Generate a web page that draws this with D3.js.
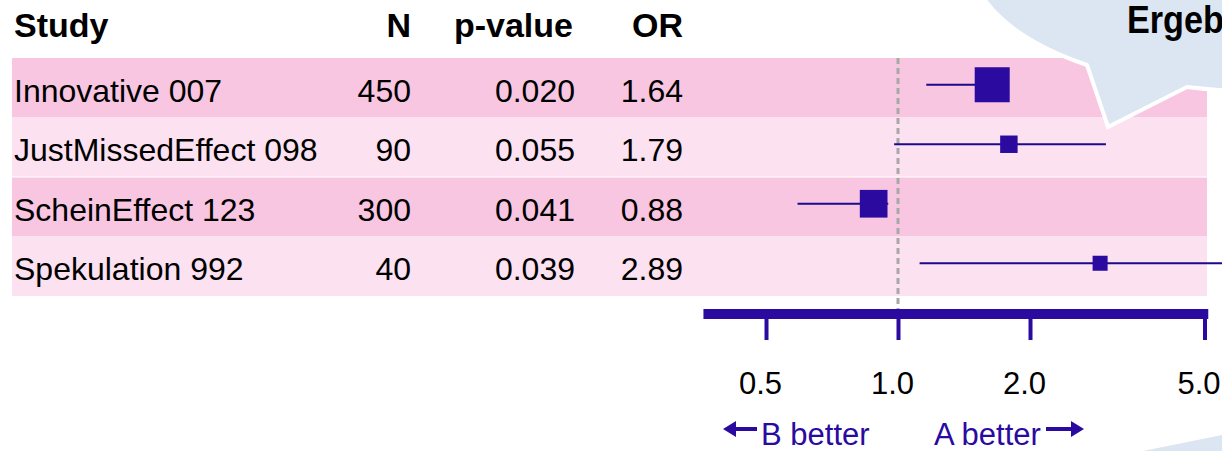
<!DOCTYPE html>
<html>
<head>
<meta charset="utf-8">
<script src="https://cdn.jsdelivr.net/npm/d3@7"></script>
<style>
  html, body { margin: 0; padding: 0; background: #ffffff; }
  svg { display: block; }
  text { font-family: "Liberation Sans", Arial, sans-serif; }
</style>
</head>
<body>
<svg id="chart" width="1222" height="451"></svg>
<script>
// Study table
const studies = ["Innovative 007", "JustMissedEffect 098", "ScheinEffect 123", "Spekulation 992"];
const sampleSizes = [450, 90, 300, 40];
const pValues = ["0.020", "0.055", "0.041", "0.039"];
const oddsRatios = [1.64, 1.79, 0.88, 2.89];
const ciLower = [1.16, 0.98, 0.59, 1.12];
const ciUpper = [1.73, 2.98, 0.95, 6.0];

// Axis
const tickValues = [0.5, 1.0, 2.0, 5.0];
const columnHeaders = ["Study", "N", "p-value", "OR"];
const directionLabels = ["B better", "A better"];
const calloutText = "Ergebnisse";

const W = 1222, H = 451;
const svg = d3.select("#chart");

const ink = "#2a0a9f";
const ciInk = "#1b0a8c";
const rowFills = ["#f8c6e1", "#fce1f0"];

const rows = studies.map((s, i) => ({
  study: s, n: sampleSizes[i], p: pValues[i], or: oddsRatios[i],
  lo: ciLower[i], hi: ciUpper[i], i
}));

// scales
const y = d3.scaleBand().domain(studies).range([58, 296]).paddingInner(0);
const x = d3.scaleLog().domain([0.5, 5]).range([766, 1204.5]);
const boxSize = d3.scaleLinear().domain([40, 450]).range([15, 35]);

const bandLeft = 12, bandRight = 1207;

// row bands
svg.append("g").selectAll("rect").data(rows).join("rect")
  .attr("x", bandLeft)
  .attr("y", d => y(d.study))
  .attr("width", bandRight - bandLeft)
  .attr("height", y.bandwidth())
  .attr("fill", d => rowFills[d.i % 2]);

// thin white separator between the second and third rows
svg.append("line")
  .attr("x1", bandLeft).attr("x2", bandRight)
  .attr("y1", y(studies[2])).attr("y2", y(studies[2]))
  .attr("stroke", "#ffffff").attr("stroke-width", 1.2);

// column headers
const colRight = { n: 411, p: 575, or: 683 };
const header = svg.append("g").attr("font-weight", "bold").attr("font-size", 34).attr("fill", "#000");
header.append("text").attr("x", 14).attr("y", 37).text(columnHeaders[0]);
header.append("text").attr("x", colRight.n).attr("y", 37).attr("text-anchor", "end").text(columnHeaders[1]);
header.append("text").attr("x", colRight.p - 2).attr("y", 37).attr("text-anchor", "end").text(columnHeaders[2]);
header.append("text").attr("x", colRight.or).attr("y", 37).attr("text-anchor", "end").text(columnHeaders[3]);

// table cells
const fmtOR = d3.format(".2f");
const cells = svg.append("g").attr("font-size", 32).attr("fill", "#000");
const baseY = d => y(d.study) + y.bandwidth() / 2 + 14;
cells.selectAll(".study").data(rows).join("text")
  .attr("x", 14).attr("y", baseY).text(d => d.study);
cells.selectAll(".n").data(rows).join("text")
  .attr("x", colRight.n).attr("y", baseY).attr("text-anchor", "end").text(d => d.n);
cells.selectAll(".p").data(rows).join("text")
  .attr("x", colRight.p).attr("y", baseY).attr("text-anchor", "end").text(d => d.p);
cells.selectAll(".or").data(rows).join("text")
  .attr("x", colRight.or).attr("y", baseY).attr("text-anchor", "end").text(d => fmtOR(d.or));

// reference line at OR = 1
const axisY = 314;
svg.append("line")
  .attr("x1", x(1)).attr("x2", x(1))
  .attr("y1", 58).attr("y2", axisY)
  .attr("stroke", "#a8a8a8").attr("stroke-width", 3)
  .attr("stroke-dasharray", "6,4");

// confidence intervals and point estimates
const markY = d => y(d.study) + y.bandwidth() / 2 - 3;
const marks = svg.append("g");
marks.selectAll("line").data(rows).join("line")
  .attr("x1", d => x(d.lo)).attr("x2", d => Math.min(x(d.hi), W))
  .attr("y1", markY).attr("y2", markY)
  .attr("stroke", ciInk).attr("stroke-width", 2.2);
marks.selectAll("rect").data(rows).join("rect")
  .attr("x", d => x(d.or) - boxSize(d.n) / 2)
  .attr("y", d => markY(d) - boxSize(d.n) / 2)
  .attr("width", d => boxSize(d.n))
  .attr("height", d => boxSize(d.n))
  .attr("fill", ink);

// x axis
const axisG = svg.append("g").attr("transform", `translate(0,${axisY})`);
axisG.call(d3.axisBottom(x).tickValues(tickValues).tickFormat(d3.format(".1f")).tickSize(26).tickSizeOuter(0));
axisG.select(".domain").remove();
axisG.selectAll(".tick line").attr("stroke", ink).attr("stroke-width", 4);
axisG.selectAll(".tick text")
  .attr("x", -6)
  .attr("y", 80).attr("dy", null)
  .attr("fill", "#000")
  .attr("font-family", "Liberation Sans, Arial, sans-serif")
  .attr("font-size", 31);
axisG.append("line")
  .attr("x1", x(0.36)).attr("x2", x(5.1))
  .attr("y1", 0).attr("y2", 0)
  .attr("stroke", ink).attr("stroke-width", 10);

// direction labels with arrows
const dirY = 445, arrowY = 429;
const dir = svg.append("g").attr("fill", ink).attr("font-size", 31);
dir.append("text").attr("x", 761).attr("y", dirY).text(directionLabels[0]);
dir.append("text").attr("x", 934).attr("y", dirY).text(directionLabels[1]);
function arrow(x0, x1) {
  const dirn = Math.sign(x1 - x0);
  const head = 13;
  dir.append("line")
    .attr("x1", x0).attr("x2", x1 - dirn * head)
    .attr("y1", arrowY).attr("y2", arrowY)
    .attr("stroke", ink).attr("stroke-width", 4);
  dir.append("path")
    .attr("d", `M${x1},${arrowY} L${x1 - dirn * head},${arrowY - 8} L${x1 - dirn * head},${arrowY + 8} Z`)
    .attr("fill", ink);
}
arrow(757, 723);
arrow(1046, 1084);

// speech bubble callout in the upper right
const bubble = svg.append("g");
bubble.append("path")
  .attr("d", "M1087,65 L1108,127 L1187,87 A291,131 0 1 0 1087,65 Z")
  .attr("fill", "#dce5f2")
  .attr("stroke", "#ffffff")
  .attr("stroke-width", 4)
  .attr("stroke-linejoin", "miter");
bubble.append("text")
  .attr("x", 0).attr("y", 0)
  .attr("transform", "translate(1127,33) scale(0.9,1)")
  .attr("font-family", "Lato, 'Open Sans', sans-serif")
  .attr("font-weight", "bold")
  .attr("font-size", 38)
  .attr("fill", "#000")
  .text(calloutText);

// edge of a second callout shape at the bottom right
svg.append("path")
  .attr("d", "M1143,451 L1222,435 L1222,451 Z")
  .attr("fill", "#dce5f2");
</script>
</body>
</html>
